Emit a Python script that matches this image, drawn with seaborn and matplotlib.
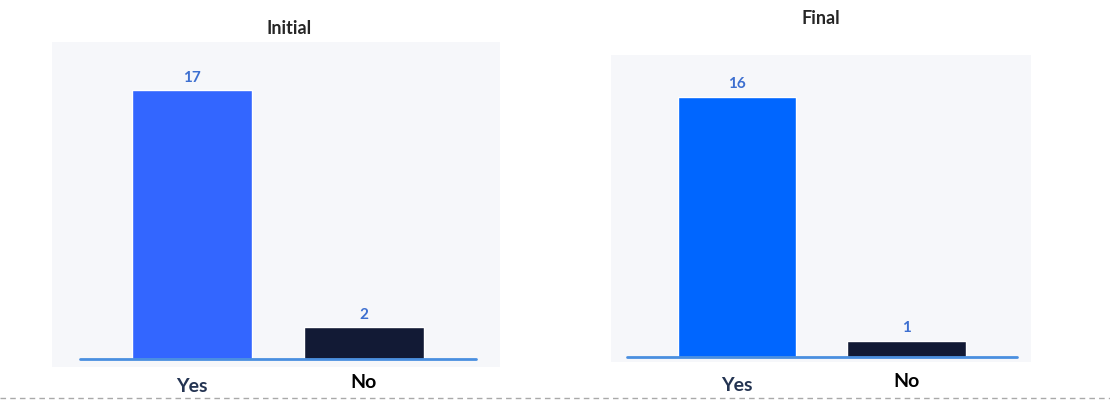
import matplotlib
matplotlib.use("Agg")
import matplotlib.pyplot as plt
import matplotlib.transforms as mtransforms
from matplotlib.lines import Line2D
import seaborn as sns

# data
categories = ["Yes", "No"]
initial_values = [17, 2]
final_values = [16, 1]

sns.set_style("white")
plt.rcParams["font.family"] = ["Lato", "DejaVu Sans"]

fig = plt.figure(figsize=(11.10, 4.01), dpi=100)

# axes boxes in pixels (left, top, right, bottom) of the 1110x401 canvas
W, H = 1110, 401


def box(l, t, r, b):
    return [l / W, 1 - b / H, (r - l) / W, (b - t) / H]


panels = [
    dict(title="Initial", values=initial_values, rect=box(52, 42, 500, 367),
         colors=["#3366FF", "#121A35"], ylim=(-0.5, 20.06), xlim=(-0.814, 1.791),
         base=(0.0625, 0.946), title_x=0.53, title_pad=6, tick_pad=5),
    dict(title="Final", values=final_values, rect=box(611, 55, 1031, 362),
         colors=["#0066FF", "#121A35"], ylim=(-0.31, 18.58), xlim=(-0.743, 1.735),
         base=(0.038, 0.967), title_x=0.5, title_pad=22, tick_pad=8),
]

for p in panels:
    ax = fig.add_axes(p["rect"])
    ax.set_facecolor("#F6F7FA")
    sns.barplot(x=categories, y=p["values"], hue=categories,
                palette=p["colors"], width=0.7, saturation=1,
                legend=False, ax=ax)
    for c in ax.containers:
        ax.bar_label(c, padding=4, color="#3D6FD0", fontsize=11,
                     fontweight="bold")
    ax.axhline(0, xmin=p["base"][0], xmax=p["base"][1], color="#4A8FE0",
               lw=2, zorder=3)
    ax.set_xlim(*p["xlim"])
    ax.set_ylim(*p["ylim"])
    ax.set_yticks([])
    ax.tick_params(axis="x", length=0, pad=p["tick_pad"], labelsize=14)
    for lab in ax.get_xticklabels():
        lab.set_fontweight("bold")
    labs = ax.get_xticklabels()
    labs[0].set_color("#243452")
    labs[1].set_color("#000000")
    labs[0].set_transform(labs[0].get_transform() +
                          mtransforms.ScaledTranslation(0, -3 / 72, fig.dpi_scale_trans))
    for s in ax.spines.values():
        s.set_visible(False)
    ax.set_xlabel("")
    ax.set_title(p["title"], fontsize=13, fontweight="bold", x=p["title_x"],
                 pad=p["title_pad"])

# dashed separator at the bottom
fig.add_artist(Line2D([0, 1], [1 - 398 / H, 1 - 398 / H], color="#A9A9A9",
                      lw=1, linestyle=(0, (4, 3)), transform=fig.transFigure))

fig.savefig("out.png", dpi=100)
